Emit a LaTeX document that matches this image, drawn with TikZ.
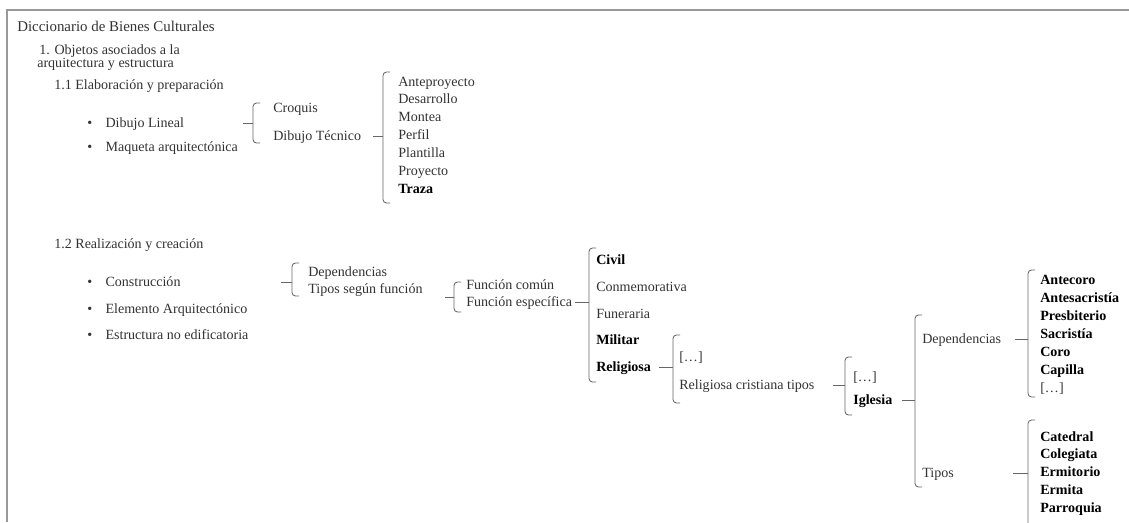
\documentclass[tikz,border=0pt]{standalone}
\usepackage{fontspec}
\setmainfont{Liberation Serif}
\usepackage{tikz}

\tikzset{
  txt/.style={anchor=base west, inner sep=0pt, text=black!80,
    font=\fontsize{10pt}{12pt}\selectfont},
  bold/.style={txt, text=black, font=\fontsize{10pt}{12pt}\selectfont\bfseries},
  brk/.style={draw=black!60, line width=0.6pt, rounded corners=2.5pt},
  frame/.style={draw=black!40, line width=1.4pt},
}

% bullet with a fixed gap before the item text
\newcommand{\bul}{\makebox[13pt][l]{\textbullet}}
% bracket: [tick yshift] parent, x, top, bottom, tick length
\newcommand{\brak}[6][0pt]{%
  \draw[brk] (#3+7,#4) -- (#3,#4) -- (#3,#5) -- (#3+7,#5);
  \coordinate (bx) at (#3,0);
  \coordinate (tk) at ({#3-#6},0);
  \coordinate (tp) at ([yshift=2.8pt+#1]#2.base);
  \draw[brk] (tp -| tk) -- (tp -| bx);
}

\begin{document}
\begin{tikzpicture}[x=0.025cm, y=-0.025cm]

\useasboundingbox (0,0) rectangle (1129,522);
\draw[frame] (7,522) |- (1129,10);

% =========================
% Heading
% =========================
\node[txt, font=\fontsize{10.6pt}{12pt}\selectfont] (dic) at (17,31) {Diccionario de Bienes Culturales};
\node[txt] (obj) at (39,54) {1. Objetos asociados a la};
\node[txt] (obj2) at (37,67) {arquitectura y estructura};

% =========================
% 1.1 Elaboracion
% =========================
\node[txt] (s11) at (54,89) {1.1 Elaboración y preparación};
\node[txt] (dl) at (87,127) {\bul Dibujo Lineal};
\node[txt] (mq) at (87,151) {\bul Maqueta arquitectónica};

\node[txt] (cq) at (273,112) {Croquis};
\node[txt] (dt) at (273,140) {Dibujo Técnico};
\brak{dl}{253}{103}{143}{10}

% drawing kinds
\foreach \w [count=\i from 0] in {Anteproyecto, Desarrollo, Montea, Perfil, Plantilla, Proyecto}
  \node[txt] (tr\i) at (398,86+17.8*\i) {\w};
\node[bold] (tr6) at (398,193) {Traza};
\brak{dt}{383}{72}{203}{10}

% =========================
% 1.2 Realizacion
% =========================
\node[txt] (s12) at (54,248) {1.2 Realización y creación};
\node[txt] (con) at (87,286) {\bul Construcción};
\node[txt] (ela) at (87,313) {\bul Elemento Arquitectónico};
\node[txt] (est) at (87,339) {\bul Estructura no edificatoria};

\node[txt] (dep) at (308,276) {Dependencias};
\node[txt] (tsf) at (308,293) {Tipos según función};
\brak{con}{292}{263}{296}{11}

\node[txt] (fc) at (466,289) {Función común};
\node[txt] (fe) at (466,306) {Función específica};
\brak[-5.6pt]{tsf}{454}{282}{312}{9}

\node[bold] (civ) at (596,264) {Civil};
\node[txt] (cmm) at (596,291) {Conmemorativa};
\node[txt] (fun) at (596,318) {Funeraria};
\node[bold] (mil) at (596,344) {Militar};
\node[bold] (rel) at (596,371) {Religiosa};
\brak{fe}{589}{248}{382}{14}

\node[txt] (rdt) at (679,361) {[…]};
\node[txt] (rct) at (679,389) {Religiosa cristiana tipos};
\brak{rel}{673}{335}{403}{14}

\node[txt] (idt) at (853,381) {[…]};
\node[bold] (igl) at (853,404) {Iglesia};
\brak{rct}{845}{357}{415}{12}

\node[txt] (dep2) at (922,343) {Dependencias};
\node[txt] (tip) at (922,477) {Tipos};
\brak{igl}{915}{315}{487}{13}

% church rooms
\foreach \w [count=\i from 0] in {Antecoro, Antesacristía, Presbiterio, Sacristía, Coro, Capilla}
  \node[bold] (dr\i) at (1040,284+18*\i) {\w};
\node[txt] (dr6) at (1040,392) {[…]};
\brak{dep2}{1028}{270}{397}{13}

% church types
\foreach \w [count=\i from 0] in {Catedral, Colegiata, Ermitorio, Ermita, Parroquia}
  \node[bold] (ct\i) at (1040,441+17.75*\i) {\w};
\brak{tip}{1028}{420}{535}{15}

\end{tikzpicture}
\end{document}
